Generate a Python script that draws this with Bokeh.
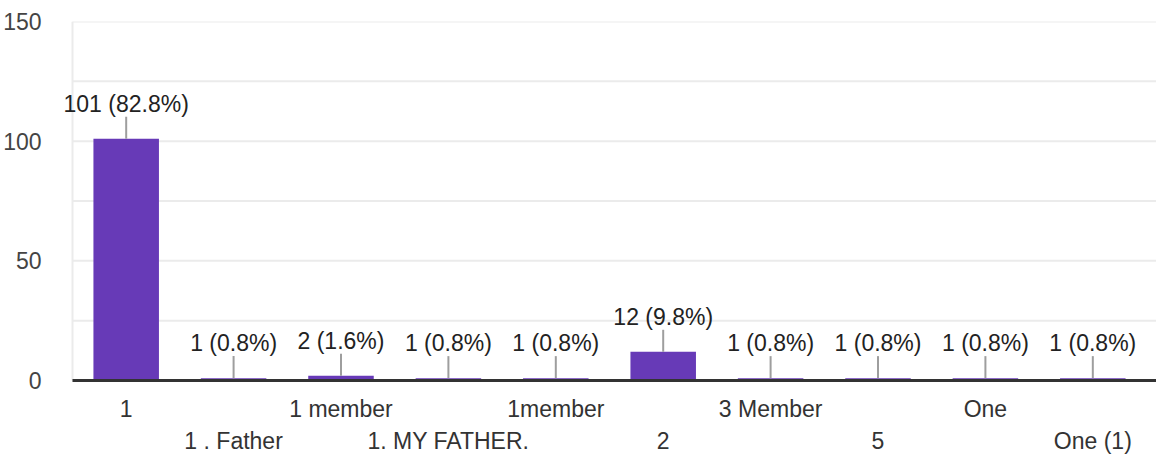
from bokeh.plotting import figure
from bokeh.models import ColumnDataSource, FactorRange, FixedTicker, Range1d
from bokeh.core.properties import value
from bokeh.embed import file_html
from bokeh.resources import INLINE

categories = ["1", "1 . Father", "1 member", "1. MY FATHER.", "1member",
              "2", "3 Member", "5", "One", "One (1)"]
counts = [101, 1, 2, 1, 1, 12, 1, 1, 1, 1]
percents = ["82.8%", "0.8%", "1.6%", "0.8%", "0.8%", "9.8%", "0.8%", "0.8%", "0.8%", "0.8%"]
y_ticks = [0, 50, 100, 150]
grid_ticks = [0, 25, 50, 75, 100, 125, 150]

labels = [f"{c} ({p})" for c, p in zip(counts, percents)]
leader = 9.2  # leader length in data units
src = ColumnDataSource(dict(x=categories, top=counts, label=labels,
                            lt=[c + leader for c in counts]))

FONT = "Liberation Sans"
SIZE = "23px"
first, last = categories[0], categories[-1]

# y range extends below 0 to leave room for the staggered category labels;
# small x padding so the first value label is not clipped
p = figure(x_range=FactorRange(*categories, range_padding=0.093, range_padding_units="absolute"),
           y_range=Range1d(-30.9, 150),
           width=1156, height=454, output_backend="svg", toolbar_location=None,
           min_border_left=62, min_border_right=0, min_border_top=21, min_border_bottom=0)
p.outline_line_color = None
p.background_fill_color = "white"
p.xgrid.visible = False
p.ygrid.visible = False

# gridlines and left edge line, drawn from the category boundary
n = len(grid_ticks)
p.segment(x0=[(first, -0.5)] * n, x1=[(last, 1.0)] * n, y0=grid_ticks, y1=grid_ticks,
          line_color="#ebebeb", line_width=2)
p.segment(x0=[(first, -0.5)], x1=[(first, -0.5)], y0=[0], y1=[150],
          line_color="#ebebeb", line_width=2)

p.vbar(x="x", top="top", width=0.61, source=src, color="#673ab7", line_color=None)
p.segment(x0="x", y0="top", x1="x", y1="lt", source=src, line_color="#9e9e9e", line_width=2)
p.text(x="x", y="top", text="label", source=src, y_offset=-35, text_align="center",
       text_baseline="middle", text_font=value(FONT), text_font_size=SIZE, text_color="#222222")

# baseline
p.segment(x0=[(first, -0.5)], x1=[(last, 1.0)], y0=[0], y1=[0],
          line_color="#333333", line_width=3)

# y axis
p.yaxis.ticker = FixedTicker(ticks=y_ticks)
p.yaxis.axis_line_color = None
p.yaxis.major_tick_line_color = None
p.yaxis.minor_tick_line_color = None
p.yaxis.major_label_standoff = 15
p.yaxis.major_label_text_font = FONT
p.yaxis.major_label_text_font_size = SIZE
p.yaxis.major_label_text_color = "#444444"

# x axis hidden; category labels staggered in two rows
p.xaxis.visible = False
row1 = [c for i, c in enumerate(categories) if i % 2 == 0]
row2 = [c for i, c in enumerate(categories) if i % 2 == 1]
p.text(x=row1, y=[0] * len(row1), text=row1, y_offset=28, text_align="center",
       text_baseline="middle", text_font=value(FONT), text_font_size=SIZE, text_color="#333333")
p.text(x=row2, y=[0] * len(row2), text=row2, y_offset=60, text_align="center",
       text_baseline="middle", text_font=value(FONT), text_font_size=SIZE, text_color="#333333")

open("out.html", "w").write(file_html(p, INLINE))
